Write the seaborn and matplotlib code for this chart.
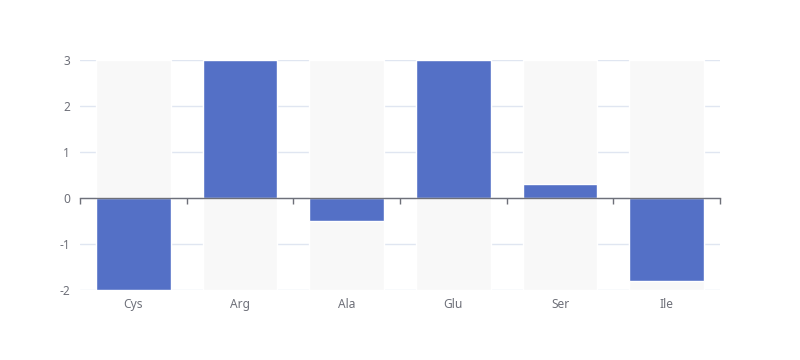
import matplotlib
matplotlib.use("Agg")
import matplotlib.pyplot as plt
import numpy as np
import pandas as pd
import seaborn as sns

# data
categories = ["Cys", "Arg", "Ala", "Glu", "Ser", "Ile"]
values = [-2, 3, -0.5, 3, 0.3, -1.8]
y_min, y_max = -2, 3

BAR_COLOR = "#5470c6"
BG_COLOR = "#f8f8f8"
GRID_COLOR = "#e0e6f1"
AXIS_COLOR = "#6e7079"

sns.set_theme(style="white")
plt.rcParams["font.family"] = ["Noto Sans", "DejaVu Sans"]
plt.rcParams["axes.unicode_minus"] = False

df = pd.DataFrame({"cat": categories, "val": values})
bg_top = pd.DataFrame({"cat": categories, "val": [y_max] * len(categories)})
bg_bot = pd.DataFrame({"cat": categories, "val": [y_min] * len(categories)})

fig = plt.figure(figsize=(8, 3.6), dpi=100)
ax = fig.add_axes([0.1, 1 - 290 / 360, 0.8, 230 / 360])

# background bars (full range) then the value bars
for bg in (bg_top, bg_bot):
    sns.barplot(data=bg, x="cat", y="val", color=BG_COLOR, width=0.7,
                saturation=1, ax=ax, zorder=1)
sns.barplot(data=df, x="cat", y="val", color=BAR_COLOR, width=0.7,
            saturation=1, ax=ax, zorder=2)

ax.set_xlim(-0.5, len(categories) - 0.5)
ax.set_ylim(y_min, y_max)
ax.set_yticks(np.arange(y_min, y_max + 1))
ax.set_xlabel("")
ax.set_ylabel("")
ax.yaxis.grid(True, color=GRID_COLOR, lw=1, zorder=0)
ax.set_axisbelow(True)
for s in ax.spines.values():
    s.set_visible(False)
ax.tick_params(axis="both", length=0, colors=AXIS_COLOR, labelsize=8.6)
ax.tick_params(axis="x", pad=6)
ax.tick_params(axis="y", pad=7)

# zero axis line with boundary ticks
ax2 = ax.twiny()
ax2.set_xlim(ax.get_xlim())
ax2.set_xticks(np.arange(-0.5, len(categories)))
ax2.xaxis.set_ticks_position("bottom")
ax2.tick_params(axis="x", direction="out", length=4, width=1,
                color=AXIS_COLOR, labelbottom=False, labeltop=False)
for name, s in ax2.spines.items():
    s.set_visible(name == "bottom")
ax2.spines["bottom"].set_position(("data", 0))
ax2.spines["bottom"].set_color(AXIS_COLOR)
ax2.spines["bottom"].set_linewidth(1)

fig.savefig("out.png", dpi=100)
